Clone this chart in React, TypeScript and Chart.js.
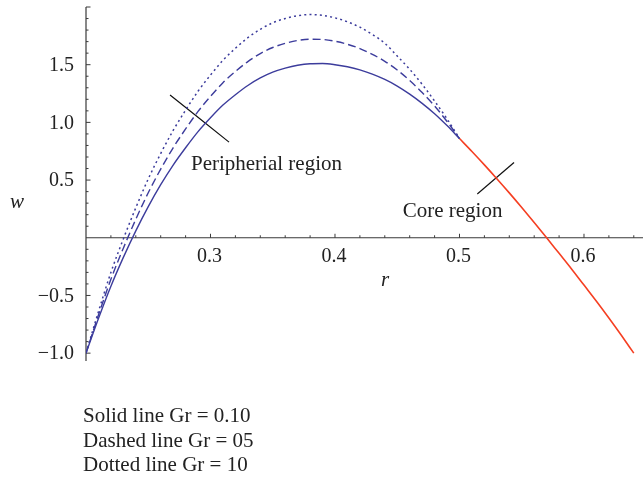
import { useEffect, useRef } from "react";
import { Chart, registerables } from "chart.js";

Chart.register(...registerables);

// Peripheral region (r from 0.20 to 0.50)
const rPeripheral = [
  0.2, 0.21, 0.22, 0.23, 0.24, 0.25, 0.26, 0.27, 0.28, 0.29, 0.3, 0.31, 0.32,
  0.33, 0.34, 0.35, 0.36, 0.37, 0.38, 0.39, 0.4, 0.41, 0.42, 0.43, 0.44, 0.45,
  0.46, 0.47, 0.48, 0.49, 0.5,
];
const wSolid = [
  -1.0, -0.7, -0.42, -0.17, 0.06, 0.27, 0.46, 0.63, 0.78, 0.92, 1.04, 1.15,
  1.24, 1.32, 1.385, 1.435, 1.47, 1.495, 1.508, 1.51, 1.5, 1.482, 1.455, 1.418,
  1.372, 1.315, 1.245, 1.165, 1.075, 0.972, 0.86,
];
const wDashed = [
  -1.0, -0.67, -0.36, -0.09, 0.16, 0.39, 0.595, 0.78, 0.943, 1.095, 1.225,
  1.344, 1.441, 1.527, 1.596, 1.649, 1.685, 1.71, 1.721, 1.719, 1.703, 1.677,
  1.64, 1.59, 1.529, 1.454, 1.363, 1.259, 1.142, 1.008, 0.86,
];
const wDotted = [
  -1.0, -0.64, -0.3, -0.01, 0.26, 0.51, 0.73, 0.93, 1.106, 1.27, 1.41, 1.538,
  1.642, 1.734, 1.807, 1.863, 1.9, 1.925, 1.934, 1.928, 1.906, 1.872, 1.825,
  1.762, 1.686, 1.575, 1.46, 1.33, 1.185, 1.03, 0.86,
];

// Core region (r from 0.50 to 0.64)
const rCore = [
  0.5, 0.51, 0.52, 0.53, 0.54, 0.55, 0.56, 0.57, 0.58, 0.59, 0.6, 0.61, 0.62,
  0.63, 0.64,
];
const wCore = [
  0.86, 0.748, 0.632, 0.512, 0.389, 0.262, 0.132, 0.0, -0.135, -0.27, -0.41,
  -0.55, -0.695, -0.845, -1.0,
];

// Annotation pointer strokes
const peripheralMarkR = [0.2675, 0.3149];
const peripheralMarkW = [1.237, 0.829];
const coreMarkR = [0.5143, 0.5438];
const coreMarkW = [0.379, 0.653];

// Ticks
const xTickValues = [0.3, 0.4, 0.5, 0.6];
const xTickLabels = ["0.3", "0.4", "0.5", "0.6"];
const yTickValues = [-1.0, -0.5, 0.5, 1.0, 1.5];
const yTickLabels = ["\u22121.0", "\u22120.5", "0.5", "1.0", "1.5"];
const xMinorStep = 0.02;
const yMinorStep = 0.1;

// Texts
const peripheralText = "Peripherial region";
const peripheralTextAt = [0.2843, 0.587];
const coreText = "Core region";
const coreTextAt = [0.4544, 0.184];
const xTitle = "r";
const xTitleAt = [0.437, -0.419];
const yTitle = "w";
const legendLines = [
  "Solid line Gr = 0.10",
  "Dashed line Gr = 05",
  "Dotted line Gr = 10",
];

const BLUE = "#3c3c9c";
const RED = "#f53f22";
const AXIS = "#3a3a3a";
const SERIF = '"Liberation Serif", "Times New Roman", serif';

function pts(xs: number[], ys: number[]) {
  return xs.map((x, i) => ({ x, y: ys[i] }));
}

const decorPlugin = {
  id: "decor",
  beforeDatasetsDraw(chart: any) {
    const { ctx, scales } = chart;
    const xs = scales.x;
    const ys = scales.y;
    const x0 = xs.getPixelForValue(xs.min);
    const y0 = ys.getPixelForValue(0);
    ctx.save();
    ctx.strokeStyle = AXIS;
    ctx.lineWidth = 1.2;
    // axis lines
    ctx.beginPath();
    ctx.moveTo(xs.left, y0);
    ctx.lineTo(xs.right, y0);
    ctx.moveTo(x0, ys.top);
    ctx.lineTo(x0, ys.bottom);
    ctx.stroke();
    // x ticks (upwards)
    ctx.lineWidth = 1;
    ctx.beginPath();
    for (let k = 1; ; k++) {
      const v = xs.min + k * xMinorStep;
      if (v > xs.max + 1e-9) break;
      const px = xs.getPixelForValue(v);
      const major = xTickValues.some((t) => Math.abs(t - v) < 1e-6);
      ctx.moveTo(px, y0);
      ctx.lineTo(px, y0 - (major ? 4 : 2.5));
    }
    // y ticks (rightwards)
    for (let k = -20; k <= 30; k++) {
      const v = k * yMinorStep;
      if (v < ys.min - 1e-9 || v > ys.max + 1e-9 || k === 0) continue;
      const py = ys.getPixelForValue(v);
      const major = k % 5 === 0;
      ctx.moveTo(x0, py);
      ctx.lineTo(x0 + (major ? 4.5 : 2.5), py);
    }
    ctx.stroke();
    ctx.restore();
  },
  afterDraw(chart: any) {
    const { ctx, scales } = chart;
    const xs = scales.x;
    const ys = scales.y;
    const x0 = xs.getPixelForValue(xs.min);
    const y0 = ys.getPixelForValue(0);
    ctx.save();
    ctx.fillStyle = "#222";
    ctx.font = `20px ${SERIF}`;
    // x tick labels
    ctx.textAlign = "center";
    ctx.textBaseline = "alphabetic";
    xTickValues.forEach((v, i) => {
      ctx.fillText(xTickLabels[i], xs.getPixelForValue(v) - 1, y0 + 24);
    });
    // y tick labels
    ctx.textAlign = "right";
    ctx.textBaseline = "middle";
    yTickValues.forEach((v, i) => {
      ctx.fillText(yTickLabels[i], x0 - 12, ys.getPixelForValue(v) + 1);
    });
    // annotations
    ctx.font = `21px ${SERIF}`;
    ctx.textAlign = "left";
    ctx.textBaseline = "alphabetic";
    ctx.fillText(
      peripheralText,
      xs.getPixelForValue(peripheralTextAt[0]),
      ys.getPixelForValue(peripheralTextAt[1])
    );
    ctx.fillText(
      coreText,
      xs.getPixelForValue(coreTextAt[0]),
      ys.getPixelForValue(coreTextAt[1])
    );
    // axis titles
    ctx.font = `italic 21px ${SERIF}`;
    ctx.fillText(
      xTitle,
      xs.getPixelForValue(xTitleAt[0]),
      ys.getPixelForValue(xTitleAt[1])
    );
    ctx.fillText(yTitle, 10, 208);
    // legend text
    ctx.font = `21px ${SERIF}`;
    legendLines.forEach((t, i) => {
      ctx.fillText(t, 83, 422 + i * 24.5);
    });
    ctx.restore();
  },
};

export default function App() {
  const ref = useRef<HTMLCanvasElement | null>(null);
  useEffect(() => {
    document.body.style.margin = "0";
    const canvas = ref.current;
    if (!canvas) return;
    const common = {
      pointRadius: 0,
      fill: false,
      cubicInterpolationMode: "monotone" as const,
    };
    const chart = new Chart(canvas, {
      type: "line",
      data: {
        datasets: [
          {
            ...common,
            label: "Solid line Gr = 0.10",
            data: pts(rPeripheral, wSolid),
            borderColor: BLUE,
            borderWidth: 1.4,
          },
          {
            ...common,
            label: "Dashed line Gr = 05",
            data: pts(rPeripheral, wDashed),
            borderColor: BLUE,
            borderWidth: 1.4,
            borderDash: [8, 4],
          },
          {
            ...common,
            label: "Dotted line Gr = 10",
            data: pts(rPeripheral, wDotted),
            borderColor: BLUE,
            borderWidth: 1.5,
            borderDash: [2, 3.2],
          },
          {
            ...common,
            label: "Core region",
            data: pts(rCore, wCore),
            borderColor: RED,
            borderWidth: 1.6,
          },
          {
            ...common,
            label: "mark1",
            data: pts(peripheralMarkR, peripheralMarkW),
            borderColor: "#111",
            borderWidth: 1.2,
          },
          {
            ...common,
            label: "mark2",
            data: pts(coreMarkR, coreMarkW),
            borderColor: "#111",
            borderWidth: 1.2,
          },
        ],
      },
      options: {
        responsive: false,
        animation: false,
        layout: { padding: { left: 86, right: 0, top: 7, bottom: 118 } },
        plugins: {
          legend: { display: false },
          tooltip: { enabled: false },
        },
        scales: {
          x: { type: "linear", min: 0.2, max: 0.6474, display: false },
          y: { type: "linear", min: -1.068, max: 2.0, display: false },
        },
      },
      plugins: [decorPlugin],
    });
    return () => chart.destroy();
  }, []);
  return (
    <canvas
      ref={ref}
      width={643}
      height={479}
      style={{ display: "block", width: 643, height: 479 }}
    />
  );
}
